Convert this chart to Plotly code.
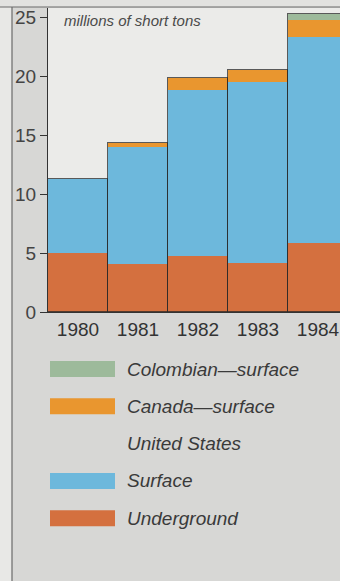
import plotly.graph_objects as go

# ---- data (millions of short tons) ----
years = ["1980", "1981", "1982", "1983", "1984"]
underground = [5.0, 4.1, 4.8, 4.15, 5.85]
surface = [6.3, 9.9, 14.05, 15.35, 17.55]
canada = [0.0, 0.35, 1.05, 1.1, 1.4]
colombian = [0.0, 0.0, 0.0, 0.0, 0.5]
y_ticks = [0, 5, 10, 15, 20, 25]
unit_label = "millions of short tons"
legend_labels = ["Colombian\u2014surface", "Canada\u2014surface", "United States", "Surface", "Underground"]

C_COL = "#9dba9b"
C_CAN = "#e9962f"
C_SUR = "#6db8dc"
C_UND = "#d4703f"
legend_colors = [C_COL, C_CAN, None, C_SUR, C_UND]

W, H = 340, 581
L, R, T, B = 48, 0, 8, 269
PW, PH = W - L - R, H - T - B
FONT = "Liberation Sans, Arial, sans-serif"
TXT = "#3a3a3a"

def px_x(x):
    return (x - L) / PW

def px_y(y):
    return (H - B - y) / PH

totals = [a + b + c + d for a, b, c, d in zip(underground, surface, canada, colombian)]

fig = go.Figure()
for name, vals, col in [("Underground", underground, C_UND), ("Surface", surface, C_SUR),
                        ("Canada\u2014surface", canada, C_CAN), ("Colombian\u2014surface", colombian, C_COL)]:
    fig.add_trace(go.Bar(x=years, y=vals, name=name, marker=dict(color=col, line=dict(width=0)),
                         showlegend=False))
# outline of each whole bar
fig.add_trace(go.Bar(x=years, y=totals, xaxis="x2", showlegend=False,
                     marker=dict(color="rgba(0,0,0,0)", line=dict(color="rgba(40,40,40,0.75)", width=1))))

shapes = [
    dict(type="rect", xref="paper", yref="paper", x0=px_x(0), x1=px_x(12), y0=px_y(H), y1=px_y(0),
         fillcolor="#e8e8e6", line=dict(width=0), layer="below"),
    dict(type="rect", xref="paper", yref="paper", x0=px_x(0), x1=px_x(W), y0=px_y(7), y1=px_y(0),
         fillcolor="#e2e2e0", line=dict(width=0), layer="below"),
    dict(type="line", xref="paper", yref="paper", x0=px_x(12), x1=px_x(12), y0=px_y(H), y1=px_y(7),
         line=dict(color="#6a6a6a", width=1.2)),
    dict(type="line", xref="paper", yref="paper", x0=px_x(0), x1=px_x(W), y0=px_y(7), y1=px_y(7),
         line=dict(color="#6a6a6a", width=1.2)),
]
annotations = [
    dict(text=unit_label, xref="paper", yref="paper", x=px_x(62), y=px_y(20), xanchor="left",
         yanchor="middle", showarrow=False,
         font=dict(family=FONT, size=15, color="#4a4a4a", style="italic")),
]
row_y0 = 369
row_step = 37.3
for i, (lab, col) in enumerate(zip(legend_labels, legend_colors)):
    yc = row_y0 + i * row_step
    if col:
        shapes.append(dict(type="rect", xref="paper", yref="paper", x0=px_x(50), x1=px_x(115),
                           y0=px_y(yc + 8), y1=px_y(yc - 8), fillcolor=col, line=dict(width=0)))
    annotations.append(dict(text=lab, xref="paper", yref="paper", x=px_x(125), y=px_y(yc),
                            xanchor="left", yanchor="middle", showarrow=False,
                            font=dict(family=FONT, size=19, color=TXT, style="italic")))

xr = [-0.5, -0.5 + PW / 60.0]
fig.update_layout(
    width=W, height=H,
    margin=dict(l=L, r=R, t=T, b=B, pad=0),
    paper_bgcolor="#d7d7d5",
    plot_bgcolor="#ebebe9",
    barmode="stack", bargap=0,
    font=dict(family=FONT, color=TXT),
    xaxis=dict(range=xr, type="category", showline=True, linecolor="#333", linewidth=1,
               ticks="", showgrid=False, zeroline=False,
               tickfont=dict(size=19, color="#333")),
    xaxis2=dict(range=xr, type="category", overlaying="x", visible=False, matches=None),
    yaxis=dict(range=[0, PH / 11.77], tickvals=y_ticks, ticks="outside", ticklen=7,
               tickcolor="#333", showline=True, linecolor="#333", linewidth=1,
               showgrid=False, zeroline=False, tickfont=dict(size=19, color="#444")),
    shapes=shapes, annotations=annotations,
)
fig.write_html("out.html")
